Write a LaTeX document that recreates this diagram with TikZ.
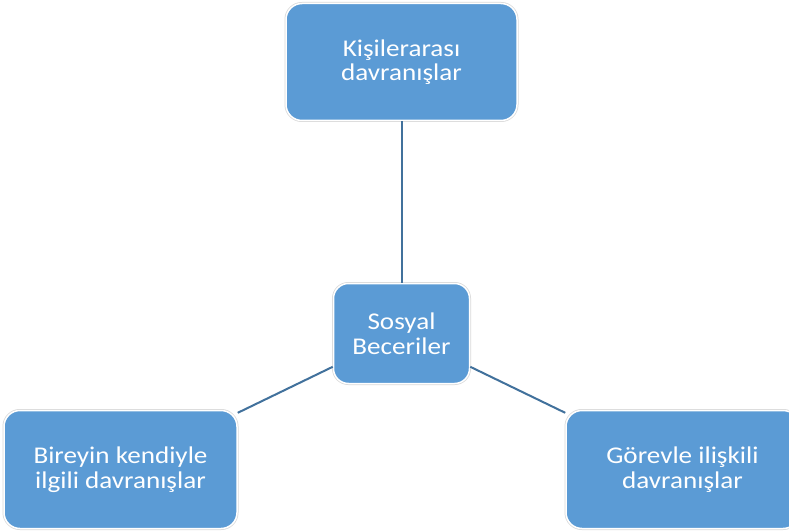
\documentclass[tikz,border=0pt]{standalone}
\usepackage{fontspec}
\setmainfont[FakeStretch=1.13]{Carlito}
\definecolor{boxblue}{HTML}{5B9BD5}
\definecolor{linkblue}{HTML}{41719C}
\definecolor{rimgray}{HTML}{D9D9D9}
\begin{document}
\begin{tikzpicture}[x=1pt,y=-1pt,
  box/.style={rectangle, rounded corners=16pt, fill=boxblue, draw=white,
    line width=1.5pt, text=white, align=center, inner sep=0pt,
    font=\fontsize{24}{24.5}\selectfont,
    preaction={draw=rimgray, line width=3pt}},
  link/.style={draw=linkblue, line width=2pt}]
  \useasboundingbox (0,0) rectangle (789,532);
  \clip (0,0) rectangle (789,532);
  \fill[white] (0,0) rectangle (789,532);
  % boxes
  \node[box, minimum width=231pt, minimum height=117pt] (top) at (401.5,62) {Kişilerarası\\davranışlar};
  \node[box, minimum width=136pt, minimum height=100pt, rounded corners=15pt] (mid) at (401.5,333.5) {Sosyal\\Beceriler};
  \node[box, minimum width=233pt, minimum height=118pt] (left) at (120.5,469.5) {Bireyin kendiyle\\ilgili davranışlar};
  \node[box, minimum width=233pt, minimum height=118pt] (right) at (682.5,469.5) {Görevle ilişkili\\davranışlar};
  % connectors
  \draw[link] (mid) -- (top);
  \draw[link] (mid) -- (left);
  \draw[link] (mid) -- (right);
\end{tikzpicture}
\end{document}
